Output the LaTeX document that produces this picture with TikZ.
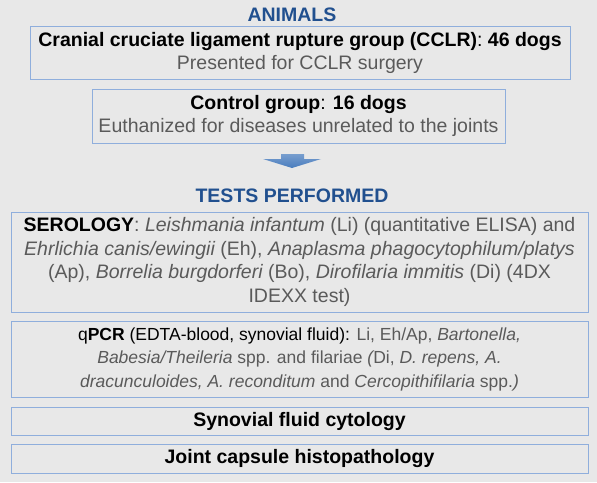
\documentclass[tikz,border=0pt]{standalone}
\usepackage{fontspec}
\setmainfont{Liberation Sans}
\usepackage{tikz}
\usetikzlibrary{positioning}
\definecolor{bgcol}{HTML}{E8E8E8}
\definecolor{framecol}{HTML}{8FAEDC}
\definecolor{titlecol}{HTML}{21508F}
\definecolor{greytext}{HTML}{5A5A5A}
\definecolor{arrowcol}{HTML}{4A7DBE}
\tikzset{
  basic/.style  = {draw=framecol, line width=0.9pt, align=center, inner sep=0pt,
                   font=\fontsize{19.5}{23.5}\selectfont},
  title/.style  = {font=\fontsize{19.5}{21}\selectfont\bfseries, text=titlecol},
  group box/.style = {basic, minimum height=53pt},
  test box/.style  = {basic, minimum width=577pt}
}
\newcommand{\gr}[1]{\textcolor{greytext}{#1}}
\newcommand{\gi}[1]{\textcolor{greytext}{\itshape #1}}

\begin{document}
\begin{tikzpicture}[x=1pt,y=-1pt]
\fill[bgcol] (0,0) rectangle (597,482);
\useasboundingbox (0,0) rectangle (597,482);
\node[title] (animals) at (292,15) {ANIMALS};
\node[group box, minimum width=540pt] (cclr) at (300,53)
  {\textbf{Cranial cruciate ligament rupture group (CCLR)}: \textbf{46 dogs}\\
   \gr{Presented for CCLR surgery}};
\node[group box, minimum width=413pt, minimum height=54pt] (control) at (298.5,116)
  {\textbf{Control group}: \textbf{16 dogs}\\
   \gr{Euthanized for diseases unrelated to the joints}};
% arrow between groups and tests
\shade[top color=arrowcol!75!white, bottom color=arrowcol]
  (281,154) -- (304,154) -- (304,159) -- (321,159) -- (292,168)
  -- (263,159) -- (281,159) -- cycle;
\node[title] (tests) at (292,196) {TESTS PERFORMED};
\node[test box, minimum height=100pt] (serology) at (299.5,262)
  {\textbf{SEROLOGY}\gr{: \textit{Leishmania infantum} (Li) (quantitative ELISA) and}\\
   \gi{Ehrlichia canis/ewingii} \gr{(Eh),} \gi{Anaplasma phagocytophilum/platys}\\
   \gr{(Ap),} \gi{Borrelia burgdorferi} \gr{(Bo),} \gi{Dirofilaria immitis} \gr{(Di) (4DX}\\
   \gr{IDEXX test)}};
\node[test box, minimum height=76pt, font=\fontsize{17.5}{23.5}\selectfont] (qpcr) at (299.5,359)
  {q\textbf{PCR} (EDTA-blood, synovial fluid): \gr{Li, Eh/Ap,} \gi{Bartonella,}\\
   \gi{Babesia/Theileria} \gr{spp. and filariae} \gi{(}\gr{Di,} \gi{D. repens, A.}\\
   \gi{dracunculoides, A. reconditum} \gr{and} \gi{Cercopithifilaria} \gr{spp.}\gi{)}};
\node[test box, minimum height=28pt] (cytology) at (299.5,421)
  {\textbf{Synovial fluid cytology}};
\node[test box, minimum height=29pt] (histo) at (299.5,458.5)
  {\textbf{Joint capsule histopathology}};
\end{tikzpicture}
\end{document}
